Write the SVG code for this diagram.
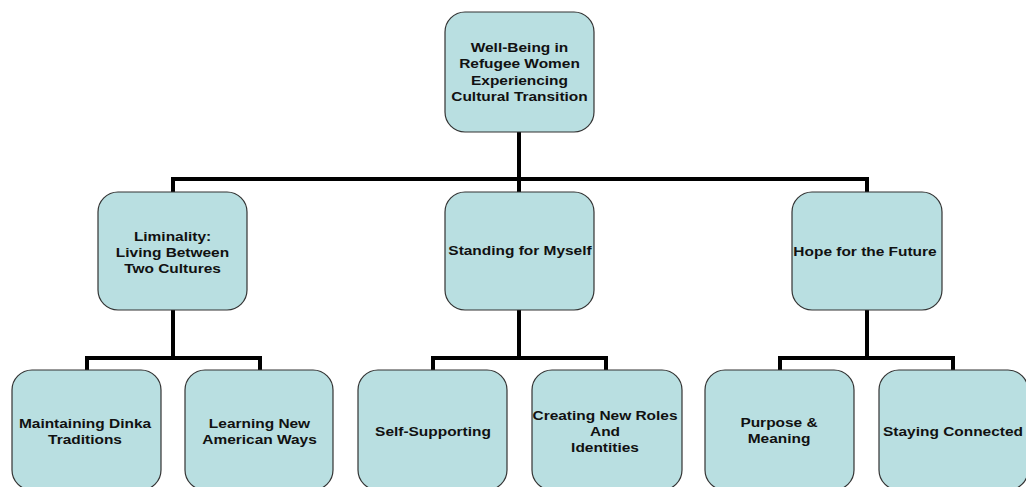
<svg xmlns="http://www.w3.org/2000/svg" width="1026" height="487" viewBox="0 0 1026 487">
<style>
.box{fill:#B9DFE1;stroke:#333;stroke-width:1.2}
.lbl{font-family:"Liberation Sans",Arial,sans-serif;font-weight:bold;font-size:13px;text-anchor:middle;fill:#111}
.con{fill:none;stroke:#000;stroke-width:4;stroke-linecap:square}
</style>
<rect width="1026" height="487" fill="#fff"/>
<g id="connectors">
<path class="con" d="M519,132 V179 M173,179 H867 M173,179 V192 M519,179 V192 M867,179 V192"/>
<path class="con" d="M173,310 V358 M87,358 H260 M87,358 V370 M260,358 V370"/>
<path class="con" d="M519,310 V358 M433,358 H606 M433,358 V370 M606,358 V370"/>
<path class="con" d="M867,310 V358 M780,358 H953 M780,358 V370 M953,358 V370"/>
</g>
<g id="root">
<rect class="box" x="445" y="12" width="149" height="120" rx="20"/>
<text class="lbl" transform="translate(519.5 0) scale(1.19 1)"><tspan x="0" y="52">Well-Being in</tspan><tspan x="0" y="68.5">Refugee Women</tspan><tspan x="0" y="85">Experiencing</tspan><tspan x="0" y="101.5">Cultural Transition</tspan></text>
</g>
<g id="liminality">
<rect class="box" x="98" y="192" width="149" height="118" rx="20"/>
<text class="lbl" transform="translate(172.5 0) scale(1.19 1)"><tspan x="0" y="241">Liminality:</tspan><tspan x="0" y="257">Living Between</tspan><tspan x="0" y="273">Two Cultures</tspan></text>
</g>
<g id="standing">
<rect class="box" x="445" y="192" width="149" height="118" rx="20"/>
<text class="lbl" transform="translate(520 0) scale(1.19 1)"><tspan x="0" y="255">Standing for Myself</tspan></text>
</g>
<g id="hope">
<rect class="box" x="792" y="192" width="150" height="118" rx="20"/>
<text class="lbl" transform="translate(865 0) scale(1.19 1)"><tspan x="0" y="256">Hope for the Future</tspan></text>
</g>
<g id="dinka">
<rect class="box" x="12" y="370" width="149" height="120" rx="20"/>
<text class="lbl" transform="translate(85 0) scale(1.19 1)"><tspan x="0" y="428">Maintaining Dinka</tspan><tspan x="0" y="444">Traditions</tspan></text>
</g>
<g id="american">
<rect class="box" x="185" y="370" width="148" height="120" rx="20"/>
<text class="lbl" transform="translate(259.5 0) scale(1.19 1)"><tspan x="0" y="428">Learning New</tspan><tspan x="0" y="444">American Ways</tspan></text>
</g>
<g id="selfsupport">
<rect class="box" x="358" y="370" width="149" height="120" rx="20"/>
<text class="lbl" transform="translate(433 0) scale(1.19 1)"><tspan x="0" y="436">Self-Supporting</tspan></text>
</g>
<g id="roles">
<rect class="box" x="532" y="370" width="150" height="120" rx="20"/>
<text class="lbl" transform="translate(605 0) scale(1.19 1)"><tspan x="0" y="420">Creating New Roles</tspan><tspan x="0" y="436">And</tspan><tspan x="0" y="452">Identities</tspan></text>
</g>
<g id="purpose">
<rect class="box" x="705" y="370" width="149" height="120" rx="20"/>
<text class="lbl" transform="translate(779 0) scale(1.19 1)"><tspan x="0" y="427">Purpose &amp;</tspan><tspan x="0" y="443">Meaning</tspan></text>
</g>
<g id="connected">
<rect class="box" x="879" y="370" width="149" height="120" rx="20"/>
<text class="lbl" transform="translate(953 0) scale(1.19 1)"><tspan x="0" y="436">Staying Connected</tspan></text>
</g>
</svg>
